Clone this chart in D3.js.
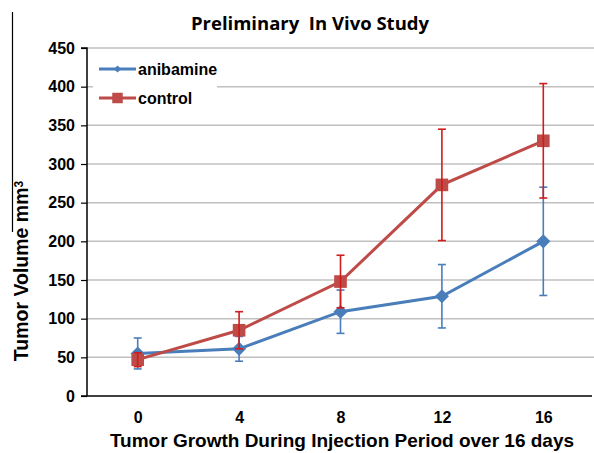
<!DOCTYPE html>
<html>
<head>
<meta charset="utf-8">
<script src="https://cdn.jsdelivr.net/npm/d3@7"></script>
<style>
  body { margin: 0; background: #fff; }
  svg { display: block; }
  text { font-family: "Liberation Sans", Arial, sans-serif; font-weight: bold; fill: #000; }
</style>
</head>
<body>
<div class="container"></div>
<script>
// chart data
const days = ['0', '4', '8', '12', '16'];
const anibamine = [55, 61, 109, 129, 200];
const anibamineErr = [20, 16, 28, 41, 70];
const control = [47, 85, 148, 273, 330];
const controlErr = [9, 24, 34, 72, 74];
const yTicks = [0, 50, 100, 150, 200, 250, 300, 350, 400, 450];

const width = 594;
const height = 453;
const margin = {top: 48, right: 0, bottom: 57, left: 87};

const svg = d3.select('.container')
    .append('svg')
    .attr('width', width)
    .attr('height', height);

const x = d3.scalePoint()
    .domain(days)
    .range([margin.left, width])
    .padding(0.5);

const y = d3.scaleLinear()
    .domain([0, 450])
    .range([height - margin.bottom, margin.top]);

// stray border line at the left of the figure
svg.append('line')
    .attr('x1', 12.5).attr('x2', 12.5)
    .attr('y1', 12).attr('y2', 232)
    .attr('stroke', '#000').attr('stroke-width', 1.2);

// gridlines
svg.append('g')
    .selectAll('line')
    .data(yTicks.filter(d => d > 0))
    .enter()
    .append('line')
    .attr('x1', margin.left).attr('x2', width)
    .attr('y1', d => y(d)).attr('y2', d => y(d))
    .attr('stroke', '#c0c0c0')
    .attr('stroke-width', 1.5);

// y axis
const yAxis = d3.axisLeft(y)
    .tickValues(yTicks)
    .tickSize(6)
    .tickPadding(6);

const gy = svg.append('g')
    .attr('transform', `translate(${margin.left},0)`)
    .call(yAxis);
gy.select('.domain').attr('stroke', '#000').attr('stroke-width', 1.5).attr('d', `M-6,${y(450)}H0V${y(0)}`);
gy.selectAll('.tick line').attr('stroke', '#000').attr('stroke-width', 1.2);
gy.selectAll('.tick text')
    .style('font-size', '16px')
    .style('font-family', '"Liberation Sans", Arial, sans-serif')
    .style('font-weight', 'bold')
    .attr('fill', '#000');

// x axis
const xAxis = d3.axisBottom(x)
    .tickSize(0)
    .tickPadding(16);

const gx = svg.append('g')
    .attr('transform', `translate(0,${y(0)})`)
    .call(xAxis);
gx.select('.domain').attr('stroke', '#000').attr('stroke-width', 1.5).attr('d', `M${margin.left - 6},0H${width - 2}`);
gx.selectAll('.tick text')
    .style('font-size', '16px')
    .style('font-family', '"Liberation Sans", Arial, sans-serif')
    .style('font-weight', 'bold')
    .attr('fill', '#000');

const series = [
    {name: 'anibamine', values: anibamine, err: anibamineErr, color: '#4a7ebb', errColor: '#4a7ebb', shape: d3.symbolSquare, rot: 45, size: 100, legendSize: 26},
    {name: 'control', values: control, err: controlErr, color: '#be4b48', errColor: '#d21b1b', shape: d3.symbolSquare, rot: 0, size: 160, legendSize: 110}
];

const line = d3.line()
    .x((d, i) => x(days[i]))
    .y(d => y(d));

series.forEach(s => {
    const g = svg.append('g').attr('class', 'series');

    g.append('path')
        .datum(s.values)
        .attr('fill', 'none')
        .attr('stroke', s.color)
        .attr('stroke-width', 3)
        .attr('d', line);

    g.selectAll('.marker')
        .data(s.values)
        .enter()
        .append('path')
        .attr('class', 'marker')
        .attr('d', d3.symbol().type(s.shape).size(s.size))
        .attr('transform', (d, i) => `translate(${x(days[i])},${y(d)}) rotate(${s.rot})`)
        .attr('fill', s.color);

    const eb = g.selectAll('.err')
        .data(s.values)
        .enter()
        .append('g')
        .attr('class', 'err')
        .attr('stroke', s.errColor)
        .attr('stroke-width', 1.6);

    eb.append('line')
        .attr('x1', (d, i) => x(days[i])).attr('x2', (d, i) => x(days[i]))
        .attr('y1', (d, i) => y(d + s.err[i])).attr('y2', (d, i) => y(d - s.err[i]));
    eb.append('line')
        .attr('x1', (d, i) => x(days[i]) - 4).attr('x2', (d, i) => x(days[i]) + 4)
        .attr('y1', (d, i) => y(d + s.err[i])).attr('y2', (d, i) => y(d + s.err[i]));
    eb.append('line')
        .attr('x1', (d, i) => x(days[i]) - 4).attr('x2', (d, i) => x(days[i]) + 4)
        .attr('y1', (d, i) => y(d - s.err[i])).attr('y2', (d, i) => y(d - s.err[i]));
});

// legend
const legend = svg.append('g');
legend.append('rect')
    .attr('x', 93).attr('y', 53)
    .attr('width', 124).attr('height', 60)
    .attr('fill', '#fff');

const li = legend.selectAll('.item')
    .data(series)
    .enter()
    .append('g')
    .attr('class', 'item')
    .attr('transform', (d, i) => `translate(0,${69 + i * 29})`);

li.append('line')
    .attr('x1', 99).attr('x2', 136)
    .attr('stroke', d => d.color)
    .attr('stroke-width', 3);
li.append('path')
    .attr('d', d => d3.symbol().type(d.shape).size(d.legendSize)())
    .attr('transform', d => `translate(117.5,0) rotate(${d.rot})`)
    .attr('fill', d => d.color);
li.append('text')
    .attr('x', 138)
    .attr('dy', '0.35em')
    .style('font-size', '16px')
    .text(d => d.name);

// title
svg.append('text')
    .attr('x', 310)
    .attr('y', 30)
    .attr('text-anchor', 'middle')
    .style('font-family', '"Open Sans", sans-serif')
    .style('font-size', '18.5px')
    .style('white-space', 'pre')
    .text('Preliminary  In Vivo Study');

// axis titles
svg.append('text')
    .attr('x', 342)
    .attr('y', 447)
    .attr('text-anchor', 'middle')
    .style('font-size', '19px')
    .text('Tumor Growth During Injection Period over 16 days');

const yl = svg.append('text')
    .attr('transform', 'translate(28,271) rotate(-90)')
    .attr('text-anchor', 'middle')
    .style('font-size', '19.5px');
yl.append('tspan').text('Tumor Volume mm');
yl.append('tspan').attr('dy', '-0.45em').style('font-size', '12px').text('3');
</script>
</body>
</html>
